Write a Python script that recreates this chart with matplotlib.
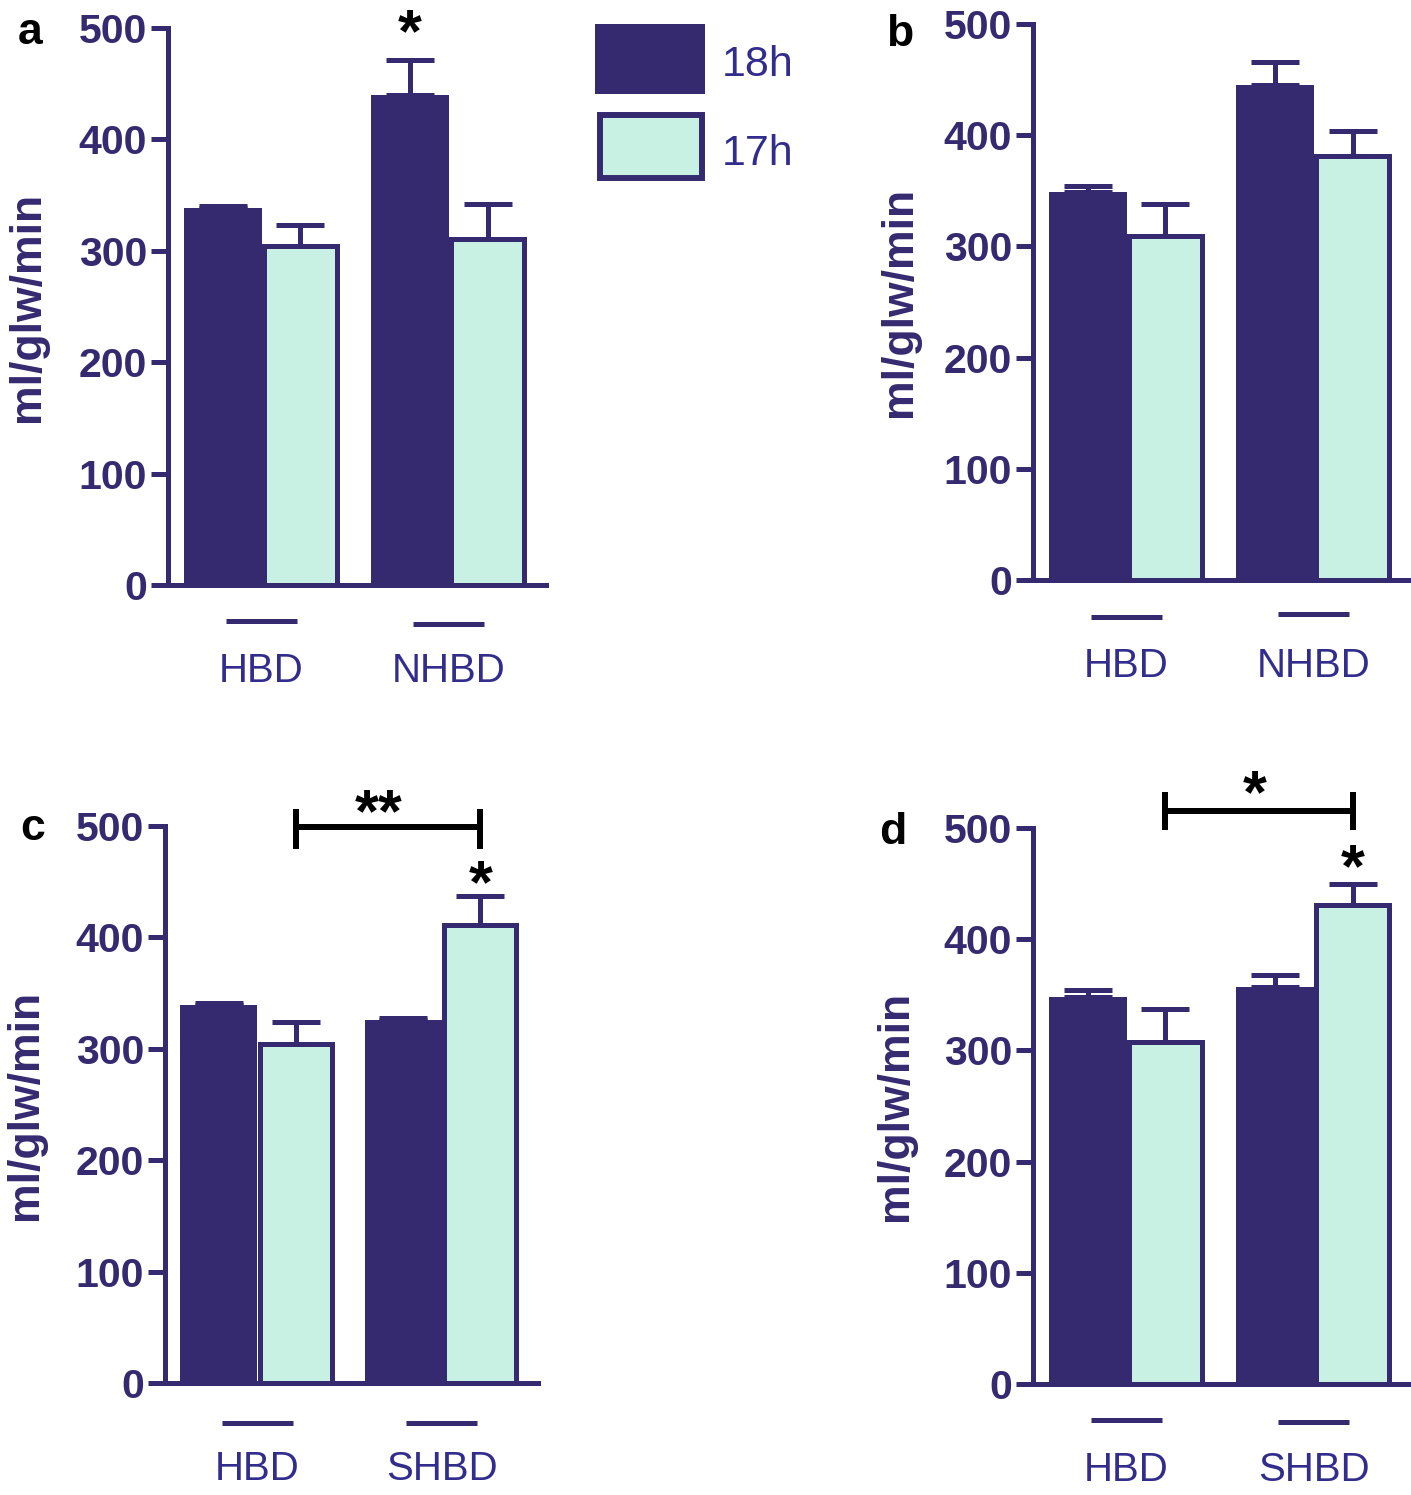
import matplotlib
matplotlib.use("Agg")
import matplotlib.pyplot as plt
from matplotlib.patches import Rectangle

plt.rcParams['font.family'] = ['Liberation Sans', 'DejaVu Sans']

dark = '#352a70'
mint = '#c8f1e4'
txt = '#322d8c'

W, H = 1411, 1495

# panel a
groups_a = ['HBD', 'NHBD']
v18_a = [338, 440]
e18_a = [2, 31]
v17_a = [304, 311]
e17_a = [19, 31]

# panel b
groups_b = ['HBD', 'NHBD']
v18_b = [349, 445]
e18_b = [5, 21]
v17_b = [309, 381]
e17_b = [29, 23]

# panel c
groups_c = ['HBD', 'SHBD']
v18_c = [339, 326]
e18_c = [2, 2]
v17_c = [304, 411]
e17_c = [20, 26]

# panel d
groups_d = ['HBD', 'SHBD']
v18_d = [348, 357]
e18_d = [6, 11]
v17_d = [308, 431]
e17_d = [29, 19]

yticks = [0, 100, 200, 300, 400, 500]
series = ['18h', '17h']

fig = plt.figure(figsize=(W / 100, H / 100), dpi=100)


def make_axes(x0, ytop, ybot, x1):
    return fig.add_axes([x0 / W, 1 - ybot / H, (x1 - x0) / W, (ybot - ytop) / H])


def draw_panel(ax, groups, v18, e18, v17, e17, ylab_x, line_off):
    xc = [1.2 + 2.4 * i for i in range(len(groups))]
    x18 = [x - 0.5 for x in xc]
    x17 = [x + 0.5 for x in xc]
    ax.bar(x18, v18, width=1.0, color=dark, edgecolor=dark, linewidth=0, zorder=2)
    ax.bar(x17, v17, width=0.94, color=mint, edgecolor=dark, linewidth=3.6, zorder=3)
    ax.errorbar(x18, v18, yerr=[[0] * len(v18), e18], fmt='none', ecolor=dark,
                elinewidth=3.6, capsize=17, capthick=3.6, zorder=4)
    ax.errorbar(x17, v17, yerr=[[0] * len(v17), e17], fmt='none', ecolor=dark,
                elinewidth=3.6, capsize=17, capthick=3.6, zorder=4)
    ax.set_xlim(0, 4.85)
    ax.set_ylim(0, 500)
    ax.set_yticks(yticks)
    ax.set_yticklabels([str(t) for t in yticks], fontsize=29.5, fontweight='bold', color=dark)
    ax.set_xticks(xc)
    ax.set_xticklabels(groups, fontsize=29, color=txt)
    ax.tick_params(axis='x', length=0, pad=48)
    ax.tick_params(axis='y', length=12, width=3.6, color=dark, pad=3)
    for s in ['top', 'right']:
        ax.spines[s].set_visible(False)
    for s in ['left', 'bottom']:
        ax.spines[s].set_linewidth(3.6)
        ax.spines[s].set_color(dark)
    ax.set_ylabel('ml/glw/min', fontsize=32, fontweight='bold', color=dark)
    ax.yaxis.set_label_coords(ylab_x, 0.5)
    tr = ax.get_xaxis_transform()
    for x, off in zip(xc, line_off):
        ax.plot([x - 0.46, x + 0.46], [-off, -off], transform=tr, clip_on=False,
                color=dark, lw=3.6, solid_capstyle='butt')
    return x17


def bracket(ax, xa, xb, y, lo, hi):
    kw = dict(color='black', lw=4.3, clip_on=False, solid_capstyle='butt', zorder=5)
    ax.plot([xa, xb], [y, y], **kw)
    ax.plot([xa, xa], [lo, hi], **kw)
    ax.plot([xb, xb], [lo, hi], **kw)


def star(ax, x, y, s):
    ax.text(x, y, s, ha='center', va='baseline', fontsize=44, fontweight='bold',
            color='black', clip_on=False, zorder=6)


ax_a = make_axes(168, 28, 585, 546)
draw_panel(ax_a, groups_a, v18_a, e18_a, v17_a, e17_a, -0.317, [0.065, 0.070])
star(ax_a, 1.2 + 2.4 - 0.5, 479, '*')

ax_b = make_axes(1033, 24, 580, 1411)
draw_panel(ax_b, groups_b, v18_b, e18_b, v17_b, e17_b, -0.30, [0.067, 0.061])

ax_c = make_axes(165, 826, 1383, 538)
x17c = draw_panel(ax_c, groups_c, v18_c, e18_c, v17_c, e17_c, -0.32, [0.072, 0.072])
bracket(ax_c, x17c[0], x17c[1], 499, 479, 515)
star(ax_c, (x17c[0] + x17c[1]) / 2 - 0.12, 495, '**')
star(ax_c, x17c[1], 432, '*')

ax_d = make_axes(1033, 828, 1384, 1411)
x17d = draw_panel(ax_d, groups_d, v18_d, e18_d, v17_d, e17_d, -0.31, [0.065, 0.068])
bracket(ax_d, x17d[0], x17d[1], 515, 498, 532)
star(ax_d, (x17d[0] + x17d[1]) / 2 - 0.05, 514, '*')
star(ax_d, x17d[1], 448, '*')

for lab, px, py in [('a', 30, 32), ('b', 900, 34), ('c', 33, 828), ('d', 893, 833)]:
    fig.text(px / W, 1 - py / H, lab, ha='center', va='center', fontsize=32,
             fontweight='bold', color='black')

# legend boxes and labels
fig.add_artist(Rectangle((595 / W, 1 - 94 / H), 110 / W, 70 / H, transform=fig.transFigure,
                         facecolor=dark, edgecolor='none'))
fig.add_artist(Rectangle((600 / W, 1 - 178 / H), 102 / W, 63 / H, transform=fig.transFigure,
                         facecolor=mint, edgecolor=dark, linewidth=4.3))
for lab, py in zip(series, [76, 165]):
    fig.text(722 / W, 1 - py / H, lab, ha='left', va='baseline', fontsize=31, color=txt)

fig.savefig('out.png', dpi=100)
